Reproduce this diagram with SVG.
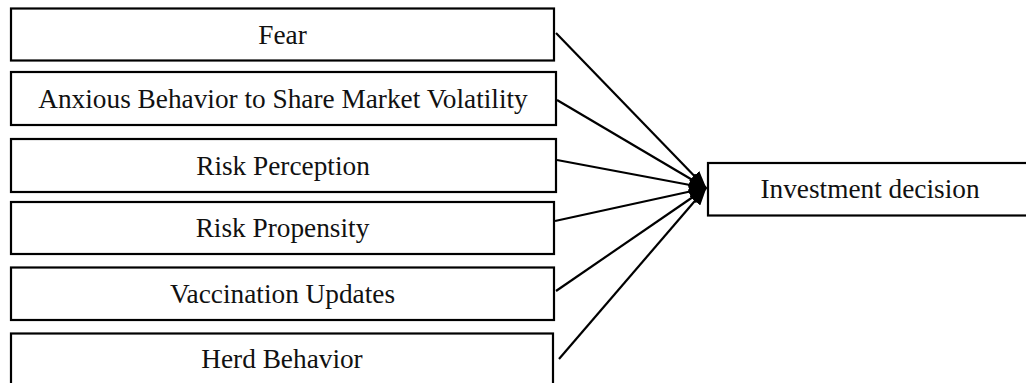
<svg xmlns="http://www.w3.org/2000/svg" width="1026" height="383" viewBox="0 0 1026 383">
<style>
.box{fill:#fff;stroke:#000;stroke-width:2.2}
.lbl{font-family:"Liberation Serif","Times New Roman",serif;font-size:27.3px;fill:#111;text-anchor:middle}
.edge{stroke:#000;stroke-width:2.2;fill:none}
</style>
<defs>
<marker id="ah" markerUnits="userSpaceOnUse" markerWidth="18" markerHeight="14" refX="17" refY="7" orient="auto">
<path d="M0,0 L18,7 L0,14 Z" fill="#000"/>
</marker>
</defs>
<rect width="1026" height="383" fill="#fff"/>
<g id="n1"><rect class="box" x="11" y="8.5" width="543" height="52"/><text class="lbl" x="282.5" y="43.5">Fear</text></g>
<g id="n2"><rect class="box" x="11" y="72" width="545" height="53"/><text class="lbl" x="283" y="107.5">Anxious Behavior to Share Market Volatility</text></g>
<g id="n3"><rect class="box" x="11" y="139" width="545" height="53"/><text class="lbl" x="283" y="174.5">Risk Perception</text></g>
<g id="n4"><rect class="box" x="11" y="202" width="543" height="52"/><text class="lbl" x="282.5" y="237">Risk Propensity</text></g>
<g id="n5"><rect class="box" x="11" y="267.5" width="543" height="52.5"/><text class="lbl" x="282.5" y="303">Vaccination Updates</text></g>
<g id="n6"><rect class="box" x="11" y="333.5" width="542" height="60"/><text class="lbl" x="282" y="367.5">Herd Behavior</text></g>
<g id="n7"><rect class="box" x="708" y="163" width="330" height="52.5"/><text class="lbl" x="870" y="198">Investment decision</text></g>
<g id="edges">
<line class="edge" x1="556" y1="33" x2="706" y2="188" marker-end="url(#ah)"/>
<line class="edge" x1="557" y1="100" x2="706" y2="188" marker-end="url(#ah)"/>
<line class="edge" x1="557" y1="160" x2="706" y2="188" marker-end="url(#ah)"/>
<line class="edge" x1="555" y1="221" x2="706" y2="188" marker-end="url(#ah)"/>
<line class="edge" x1="556" y1="291" x2="706" y2="188" marker-end="url(#ah)"/>
<line class="edge" x1="559" y1="359" x2="706" y2="188" marker-end="url(#ah)"/>
</g>
</svg>
